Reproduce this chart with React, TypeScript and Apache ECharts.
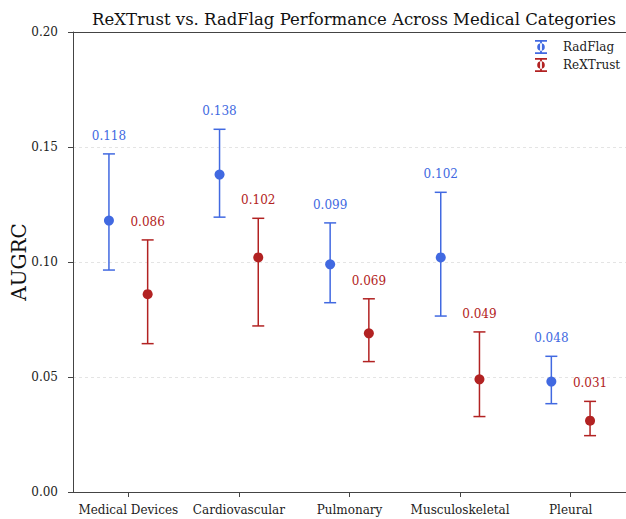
import React, { useEffect, useRef } from "react";
import * as echarts from "echarts";

const categories = ["Medical Devices", "Cardiovascular", "Pulmonary", "Musculoskeletal", "Pleural"];
const radflagMean = [0.118, 0.138, 0.099, 0.102, 0.048];
const radflagLow = [0.0965, 0.1195, 0.0823, 0.0765, 0.0384];
const radflagHigh = [0.147, 0.1577, 0.117, 0.1303, 0.059];
const rextrustMean = [0.086, 0.102, 0.069, 0.049, 0.031];
const rextrustLow = [0.0645, 0.0722, 0.0567, 0.0328, 0.0245];
const rextrustHigh = [0.1096, 0.119, 0.084, 0.0696, 0.0394];
const yTicks = [0, 0.05, 0.1, 0.15, 0.2];

const BLUE = "#4169E1";
const RED = "#B22222";
const FONT = "'DejaVu Serif', 'Liberation Serif', serif";

const ICON =
  "path://M0,0H12V1.8H0Z M5.1,0H6.9V14H5.1Z M0,12.2H12V14H0Z M2.2,7A3.8,3.8 0 1,0 9.8,7A3.8,3.8 0 1,0 2.2,7Z";

function errSeries(name: string, color: string, mean: number[], low: number[], high: number[], offset: number) {
  return {
    name,
    type: "custom",
    itemStyle: { color },
    encode: { x: 0, y: [1, 2, 3] },
    data: mean.map((m, i) => [i, m, low[i], high[i]]),
    renderItem: (params: any, api: any) => {
      const xi = api.value(0);
      const m = api.value(1);
      const lo = api.value(2);
      const hi = api.value(3);
      const band = api.size([1, 0])[0];
      const c = api.coord([xi, m]);
      const x = c[0] + offset * band;
      const yHi = api.coord([xi, hi])[1];
      const yLo = api.coord([xi, lo])[1];
      const ls = { stroke: color, lineWidth: 1.5 };
      return {
        type: "group",
        children: [
          { type: "line", shape: { x1: x, y1: yHi, x2: x, y2: yLo }, style: ls },
          { type: "line", shape: { x1: x - 6, y1: yHi, x2: x + 6, y2: yHi }, style: ls },
          { type: "line", shape: { x1: x - 6, y1: yLo, x2: x + 6, y2: yLo }, style: ls },
          { type: "circle", shape: { cx: x, cy: c[1], r: 5 }, style: { fill: color } },
          {
            type: "text",
            x,
            y: yHi - 18,
            style: {
              text: m.toFixed(3),
              fill: color,
              font: `12px ${FONT}`,
              align: "center",
              verticalAlign: "middle",
            },
          },
        ],
      };
    },
  };
}

export default function App() {
  const ref = useRef<HTMLDivElement>(null);
  useEffect(() => {
    if (!ref.current) return;
    const chart = echarts.init(ref.current, null, { renderer: "svg" });
    chart.setOption({
      animation: false,
      backgroundColor: "#ffffff",
      textStyle: { fontFamily: FONT },
      title: {
        text: "ReXTrust vs. RadFlag Performance Across Medical Categories",
        left: 349,
        textAlign: "center",
        top: 6,
        textStyle: { fontFamily: FONT, fontSize: 16.5, fontWeight: "normal", color: "#111" },
      },
      legend: {
        orient: "vertical",
        left: 535,
        top: 40,
        itemWidth: 12,
        itemHeight: 14,
        itemGap: 4,
        padding: 0,
        data: [
          { name: "RadFlag", icon: ICON },
          { name: "ReXTrust", icon: ICON },
        ],
        textStyle: { fontFamily: FONT, fontSize: 12, color: "#222", padding: [0, 0, 0, 11] },
      },
      grid: { left: 73, right: 0, top: 32, bottom: 27, containLabel: false },
      xAxis: [
        {
          type: "category",
          data: categories,
          boundaryGap: true,
          axisLine: { show: true, lineStyle: { color: "#444", width: 1 } },
          axisTick: { show: true, alignWithLabel: true, interval: 0, length: 5, lineStyle: { color: "#444" } },
          axisLabel: { fontFamily: FONT, fontSize: 12, color: "#222", margin: 12, interval: 0 },
          splitLine: { show: false },
        },
        {
          type: "category",
          data: categories,
          position: "top",
          axisLine: { show: true, lineStyle: { color: "#444", width: 1 } },
          axisTick: { show: false },
          axisLabel: { show: false },
        },
      ],
      yAxis: {
        type: "value",
        min: yTicks[0],
        max: yTicks[yTicks.length - 1],
        interval: 0.05,
        name: "AUGRC",
        nameLocation: "middle",
        nameGap: 44,
        nameMoveOverlap: false,
        nameTextStyle: { fontFamily: FONT, fontSize: 20, color: "#111" },
        axisLine: { show: true, lineStyle: { color: "#444", width: 1 } },
        axisTick: { show: true, length: 5, lineStyle: { color: "#444" } },
        axisLabel: {
          fontFamily: FONT,
          fontSize: 12,
          color: "#222",
          margin: 15,
          formatter: (v: number) => v.toFixed(2),
        },
        splitLine: { show: true, lineStyle: { color: "#dddddd", type: [3, 3], width: 0.8 } },
      },
      series: [
        errSeries("RadFlag", BLUE, radflagMean, radflagLow, radflagHigh, -0.175),
        errSeries("ReXTrust", RED, rextrustMean, rextrustLow, rextrustHigh, 0.175),
      ],
    });
    return () => chart.dispose();
  }, []);
  return <div ref={ref} style={{ position: "fixed", left: 0, top: 0, width: 626, height: 519 }} />;
}
